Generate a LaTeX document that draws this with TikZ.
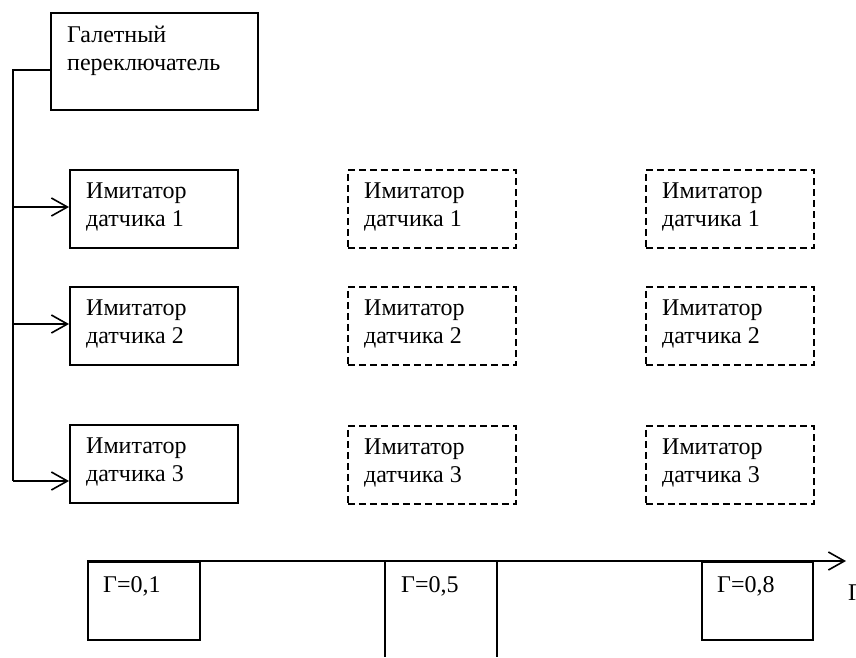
\documentclass[tikz,border=0pt]{standalone}
\usepackage{fontspec}
\setmainfont{Liberation Serif}
\usetikzlibrary{arrows.meta,calc}
\begin{document}
\begin{tikzpicture}[x=1pt,y=-1pt,
  box/.style={draw,line width=1.6pt,rectangle,anchor=north west,minimum width=168pt,minimum height=78pt,inner sep=0pt},
  dbox/.style={box,dash pattern=on 7pt off 4pt},
  txt/.style={anchor=north west,inner sep=0pt,align=left,font=\fontsize{24}{28}\selectfont},
  conn/.style={line width=1.6pt},
  arr/.style={conn,-{Straight Barb[length=16pt,width=18pt,line width=1.6pt]}}]
\useasboundingbox (0,0) rectangle (856,657);

% top switch box
\node[box,minimum width=207pt,minimum height=97pt] (sw) at (50,12) {};
\node[txt] (swt) at (67,26) {Галетный\\переключатель};

% solid simulators
\node[box] (a1) at (69,169) {};
\node[box] (a2) at (69,286) {};
\node[box] (a3) at (69,424) {};
% dashed middle
\node[dbox] (b1) at (347,169) {};
\node[dbox] (b2) at (347,286) {};
\node[dbox] (b3) at (347,425) {};
% dashed right
\node[dbox] (c1) at (645,169) {};
\node[dbox] (c2) at (645,286) {};
\node[dbox] (c3) at (645,425) {};

\foreach \n/\k in {a1/1,a2/2,a3/3,b1/1,b2/2,b3/3,c1/1,c2/2,c3/3}{
  \node[txt] (t\n) at ($(\n.north west)+(17,14)$) {Имитатор\\датчика \k};
}

% connectors from switch
\coordinate (bus0) at (13,70);
\coordinate (bus1) at (13,207);
\coordinate (bus2) at (13,324);
\coordinate (bus3) at (13,481);
\draw[conn] (sw.west |- bus0) -- (bus0) -- (bus3);
\draw[arr] (bus1) -- (a1.west |- bus1);
\draw[arr] (bus2) -- (a2.west |- bus2);
\draw[arr] (bus3) -- (a3.west |- bus3);

% axis
\coordinate (ax0) at (87,561);
\coordinate (ax1) at (846,561);
\draw[arr,line width=1.7pt] (ax0) -- (ax1);
\node[txt,anchor=base west] (axl) at (848,600) {Г};

\node[box,minimum width=112pt,minimum height=78pt] (g1) at (87,561) {};
\node[txt,anchor=base west] (g1t) at (103,592) {Г=0,1};

\coordinate (g5a) at (385,561);
\coordinate (g5b) at (497,561);
\coordinate (g5c) at (385,657);
\coordinate (g5d) at (497,657);
\draw[conn] (g5a) -- (g5c);
\draw[conn] (g5b) -- (g5d);
\node[txt,anchor=base west] (g5t) at (401,592) {Г=0,5};

\node[box,minimum width=111pt,minimum height=78pt] (g8) at (701,561) {};
\node[txt,anchor=base west] (g8t) at (717,592) {Г=0,8};
\end{tikzpicture}
\end{document}
